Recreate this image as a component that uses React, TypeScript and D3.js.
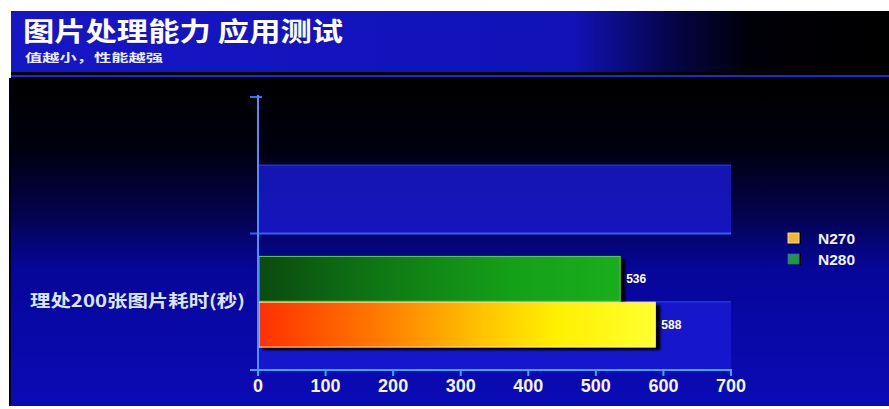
import React from "react";
import * as d3 from "d3";

const title = "图片处理能力 应用测试";
const subtitle = "值越小，性能越强";
const categories = ["", "理处200张图片耗时(秒)"];
const seriesNames = ["N280", "N270"];
const n280Values = [0, 536];
const n270Values = [0, 588];
const xTicks = [0, 100, 200, 300, 400, 500, 600, 700];
const legendNames = ["N270", "N280"];

const W = 889;
const H = 409;
const cjk = "'Noto Sans CJK SC', sans-serif";
const latin = "'Liberation Sans', Arial, sans-serif";

export default function App() {
  const x = d3.scaleLinear().domain([0, 700]).range([258, 731]);
  const y = d3.scaleBand<string>().domain(categories).range([97, 370]).paddingInner(0);
  const sub = d3
    .scaleBand<string>()
    .domain(seriesNames)
    .range([0, y.bandwidth()])
    .paddingInner(0.02)
    .paddingOuter(0.5);
  const stripe = d3.scaleLinear().domain([0, 4]).range([97, 370]);
  const seriesVals: Record<string, number[]> = { N280: n280Values, N270: n270Values };
  const fills: Record<string, string> = { N280: "url(#gGreen)", N270: "url(#gOrange)" };
  const strokes: Record<string, string> = { N280: "#5fd05a", N270: "#fff0a0" };
  const legendColors: Record<string, [string, string]> = {
    N270: ["#f2b43a", "#ffe08a"],
    N280: ["#1f9a3a", "#2a6ad0"],
  };
  const x0 = x(0);

  return (
    <div style={{ position: "absolute", left: 0, top: 0 }}>
      <svg width={W} height={H} style={{ display: "block", background: "#ffffff" }}>
        <defs>
          <linearGradient id="gTitle" x1="0" x2="1" y1="0" y2="0">
            <stop offset="0" stopColor="#1616c6" />
            <stop offset="0.64" stopColor="#1212b8" />
            <stop offset="0.75" stopColor="#05054a" />
            <stop offset="0.84" stopColor="#000008" />
            <stop offset="1" stopColor="#000000" />
          </linearGradient>
          <linearGradient id="gMain" x1="0" x2="0" y1="0" y2="1">
            <stop offset="0" stopColor="#000000" />
            <stop offset="0.22" stopColor="#000010" />
            <stop offset="0.42" stopColor="#030350" />
            <stop offset="0.58" stopColor="#06069a" />
            <stop offset="1" stopColor="#0b0bb6" />
          </linearGradient>
          <linearGradient id="gGreen" x1="0" x2="1" y1="0" y2="0">
            <stop offset="0" stopColor="#0b4a10" />
            <stop offset="0.35" stopColor="#0f7a14" />
            <stop offset="0.7" stopColor="#14a018" />
            <stop offset="1" stopColor="#1aae1c" />
          </linearGradient>
          <linearGradient id="gOrange" x1="0" x2="1" y1="0" y2="0">
            <stop offset="0" stopColor="#ff3000" />
            <stop offset="0.3" stopColor="#ff7a00" />
            <stop offset="0.55" stopColor="#ffc000" />
            <stop offset="0.75" stopColor="#fff000" />
            <stop offset="1" stopColor="#ffff30" />
          </linearGradient>
          <filter id="blur" x="-10%" y="-10%" width="120%" height="130%">
            <feGaussianBlur stdDeviation="1.2" />
          </filter>
        </defs>

        {/* frame */}
        <rect x={11} y={11} width={W - 11} height={395} fill="#000000" />
        <rect x={11} y={11} width={W - 11} height={61} fill="url(#gTitle)" />
        <rect x={11} y={78} width={W - 11} height={328} fill="url(#gMain)" />
        <line x1={11} x2={W} y1={76} y2={76} stroke="#1a2ad8" strokeWidth={2} />
        <line x1={10} x2={10} y1={78} y2={406} stroke="#000018" strokeWidth={2} />

        {/* titles */}
        <text
          x={23}
          y={41}
          fill="#ffffff"
          fontFamily={cjk}
          fontWeight={700}
          fontSize={26}
          textLength={320}
          lengthAdjust="spacingAndGlyphs"
        >
          {title}
        </text>
        <text
          x={25}
          y={62}
          fill="#e8ecff"
          fontFamily={cjk}
          fontWeight={700}
          fontSize={11.5}
          textLength={138}
          lengthAdjust="spacingAndGlyphs"
        >
          {subtitle}
        </text>

        {/* stripes */}
        {[1, 3].map((i) => (
          <rect
            key={i}
            x={x0}
            y={stripe(i)}
            width={x(700) - x0}
            height={stripe(i + 1) - stripe(i)}
            fill="#1a1ad6"
            opacity={0.8}
          />
        ))}
        <line x1={x0} x2={x(700)} y1={stripe(1)} y2={stripe(1)} stroke="#2030e0" strokeWidth={1.5} />
        <line x1={x0} x2={x(700)} y1={stripe(3)} y2={stripe(3)} stroke="#2232e4" strokeWidth={1.5} />

        {/* category gridlines / ticks */}
        {categories.map((c, i) => (
          <line
            key={"yt" + i}
            x1={250}
            x2={i === 0 ? 262 : x(700)}
            y1={y(c)!}
            y2={y(c)!}
            stroke={i === 0 ? "#3070ff" : "#3a5cff"}
            strokeWidth={2}
          />
        ))}

        {/* bars */}
        {categories.map((c, ci) =>
          seriesNames.map((s) => {
            const v = seriesVals[s][ci];
            if (!v) return null;
            const by = y(c)! + sub(s)!;
            const bh = sub.bandwidth();
            const bw = x(v) - x0;
            return (
              <g key={c + s}>
                <rect x={x0 + 5} y={by + 3} width={bw} height={bh} fill="#000000" filter="url(#blur)" />
                <rect x={x0 + 1} y={by} width={bw - 1} height={bh} fill={fills[s]} stroke={strokes[s]} strokeWidth={1} />
                <text
                  x={x(v) + 6}
                  y={by + bh / 2 + 4}
                  fill="#ffffff"
                  fontFamily={latin}
                  fontWeight={700}
                  fontSize={12}
                >
                  {v}
                </text>
              </g>
            );
          })
        )}

        {/* axes */}
        <line x1={x0} x2={x0} y1={95} y2={373} stroke="#4a90ff" strokeWidth={2} />
        <line x1={250} x2={x(700) + 1} y1={370} y2={370} stroke="#3aa6ff" strokeWidth={2} />
        {xTicks.map((t) => (
          <g key={"xt" + t}>
            <line x1={x(t)} x2={x(t)} y1={370} y2={376} stroke="#3aa6ff" strokeWidth={2} />
            <text
              x={x(t)}
              y={392}
              textAnchor="middle"
              fill="#f4f4ff"
              fontFamily={latin}
              fontWeight={700}
              fontSize={18}
            >
              {t}
            </text>
          </g>
        ))}

        {/* category label */}
        {categories.map((c, i) =>
          c ? (
            <text
              key={"cl" + i}
              x={30}
              y={y(c)! + y.bandwidth() / 2 + 5}
              fill="#dde4ff"
              fontFamily={cjk}
              fontWeight={700}
              fontSize={17}
              textLength={215}
              lengthAdjust="spacingAndGlyphs"
            >
              {c}
            </text>
          ) : null
        )}

        {/* legend */}
        {legendNames.map((n, i) => (
          <g key={n} transform={`translate(787, ${232 + i * 21})`}>
            <rect x={0} y={0} width={14} height={12} fill="#000000" />
            <rect x={1} y={1} width={11} height={10} fill={legendColors[n][0]} stroke={legendColors[n][1]} strokeWidth={1} />
            <text x={31} y={11.5} fill="#eef0ff" fontFamily={latin} fontWeight={700} fontSize={15.5}>
              {n}
            </text>
          </g>
        ))}
      </svg>
    </div>
  );
}
